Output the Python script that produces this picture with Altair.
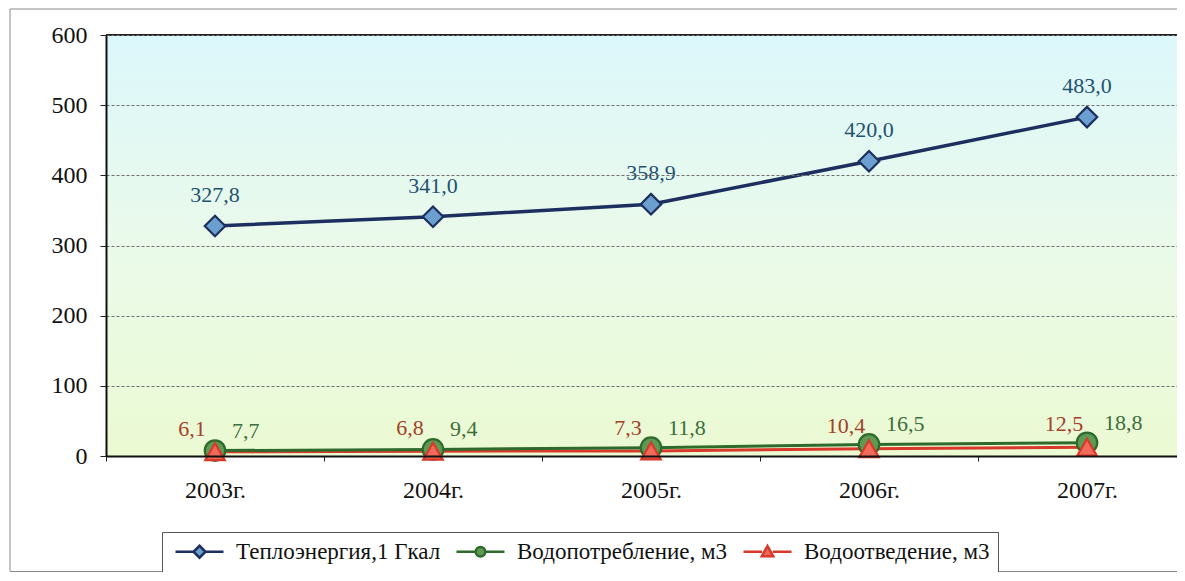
import altair as alt
import pandas as pd

years = ["2003г.", "2004г.", "2005г.", "2006г.", "2007г."]
series = ["Теплоэнергия,1 Гкал", "Водопотребление, м3", "Водоотведение, м3"]
heat = [327.8, 341.0, 358.9, 420.0, 483.0]
water_use = [7.7, 9.4, 11.8, 16.5, 18.8]
water_out = [6.1, 6.8, 7.3, 10.4, 12.5]

line_colors = ["#1d2f5e", "#2e6a2c", "#d8392a"]
fill_colors = ["#6b9fd0", "#5f9a55", "#f26a5a"]
label_colors = ["#245170", "#3c6e3c", "#a3402a"]
legend_paths = [
    "M-1,0L2,0M4,0L7,0M3,-1L4,0L3,1L2,0Z",
    "M-1,0L2.2,0M3.8,0L7,0M2.2,0A0.8,0.8 0 1,0 3.8,0A0.8,0.8 0 1,0 2.2,0Z",
    "M-1,0L2.1,0M3.9,0L7,0M3,-0.95L3.95,0.75L2.05,0.75Z",
]

rows = []
for name, vals in zip(series, [heat, water_use, water_out]):
    for y, v in zip(years, vals):
        rows.append({"year": y, "series": name, "value": v,
                     "label": f"{v:.1f}".replace(".", ",")})
df = pd.DataFrame(rows)

FONT = "Liberation Serif"

x_enc = alt.X("year:N", sort=years, bandPosition=0.5, title=None,
              scale=alt.Scale(type="band", domain=years, range=[0, 1090],
                              paddingInner=0, paddingOuter=0),
              axis=alt.Axis(tickBand="extent", labelAngle=0, labelFont=FONT,
                            labelFontSize=24, labelColor="#111", labelPadding=17,
                            tickSize=5, tickColor="#222", domainColor="#111",
                            domainWidth=2, grid=False, zindex=1))
y_enc = alt.Y("value:Q", title=None,
              scale=alt.Scale(domain=[0, 600], nice=False, zero=True),
              axis=alt.Axis(values=[0, 100, 200, 300, 400, 500, 600], labelFont=FONT,
                            labelFontSize=24, labelColor="#111", labelPadding=13,
                            tickSize=6, tickColor="#222", domainColor="#111",
                            domainWidth=2, grid=True, gridColor="#6f6f6f",
                            gridDash=[3, 2], gridWidth=1, zindex=1))

stroke_scale = alt.Scale(domain=series, range=line_colors)
fill_scale = alt.Scale(domain=series, range=fill_colors)
shape_scale = alt.Scale(domain=series, range=legend_paths)

base = alt.Chart(df).encode(x=x_enc, y=y_enc)

def sel(i):
    return base.transform_filter(alt.datum.series == series[i])

one = pd.DataFrame({"a": [0]})

frame = alt.Chart(one).mark_rect(
    fillOpacity=0, stroke="#8a8a8a", strokeWidth=1
).encode(x=alt.value(-96), x2=alt.value(1100), y=alt.value(-26), y2=alt.value(536.5))

background = alt.Chart(one).mark_rect(
    fill=alt.Gradient(gradient="linear", x1=0, y1=0, x2=0, y2=1,
                      stops=[alt.GradientStop(offset=0, color="#dcf7fb"),
                             alt.GradientStop(offset=0.5, color="#eafaea"),
                             alt.GradientStop(offset=1, color="#ebfad2")])
).encode(x=alt.value(0), x2=alt.value(1071), y=alt.value(0), y2=alt.value(421))

top_rule = alt.Chart(one).mark_rule(
    color="#222", strokeWidth=2
).encode(y=alt.value(0))

def line(i, w):
    return sel(i).mark_line(strokeWidth=w, color=line_colors[i])

def pts(i, shape, size):
    return sel(i).mark_point(shape=shape, filled=True, size=size, strokeWidth=2.2,
                             opacity=1, fill=fill_colors[i], stroke=line_colors[i])

def labels(i, dx, dy, align):
    return sel(i).mark_text(font=FONT, fontSize=22, dx=dx, dy=dy, align=align,
                            baseline="middle", color=label_colors[i]).encode(text="label:N")

leg = alt.Legend(title=None, orient="none", legendX=56, legendY=497,
                 direction="horizontal", labelFont=FONT, labelFontSize=23,
                 labelColor="#111", labelLimit=600, symbolSize=144,
                 symbolStrokeWidth=2.5, labelOffset=43, columnPadding=10,
                 padding=8, strokeColor="#555", fillColor="white", symbolOpacity=1)
legend_layer = base.mark_point(opacity=0, filled=True).encode(
    fill=alt.Fill("series:N", scale=fill_scale, legend=leg),
    stroke=alt.Stroke("series:N", scale=stroke_scale, legend=leg),
    shape=alt.Shape("series:N", scale=shape_scale, legend=leg),
)

chart = alt.layer(
    legend_layer,
    frame,
    background,
    top_rule,
    line(2, 3),
    line(1, 3),
    line(0, 3.5),
    pts(1, "circle", 420),
    pts(2, "triangle-up", 380),
    pts(0, "diamond", 420),
    labels(0, 0, -31, "center"),
    labels(1, 17, -20, "left"),
    labels(2, -23, -23, "center"),
).properties(
    width=1071, height=421,
    autosize=alt.AutoSizeParams(type="none"),
    padding={"left": 98, "top": 27, "right": 0, "bottom": 116},
).configure_view(
    stroke=None,
).configure_legend(
    labelFont=FONT, labelFontSize=23, labelColor="#111", labelLimit=600,
)

chart.save("out.html", embed_options={"renderer": "svg", "actions": False})
